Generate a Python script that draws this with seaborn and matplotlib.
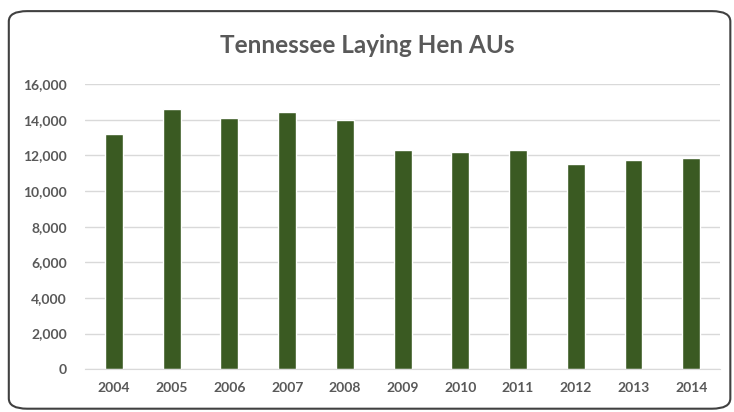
import matplotlib
matplotlib.use("Agg")
import matplotlib.pyplot as plt
from matplotlib.patches import FancyBboxPatch
from matplotlib.ticker import FuncFormatter
import seaborn as sns
import pandas as pd

years = ["2004", "2005", "2006", "2007", "2008", "2009", "2010", "2011", "2012", "2013", "2014"]
hen_aus = [13200, 14580, 14110, 14440, 14000, 12300, 12180, 12300, 11490, 11740, 11850]

df = pd.DataFrame({"year": years, "aus": hen_aus})

sns.set_style("white")
plt.rcParams["font.family"] = ["Lato", "DejaVu Sans"]

fig = plt.figure(figsize=(7.34, 4.12), dpi=100)
ax = fig.add_axes([0.116, 0.104, 0.865, 0.692])

sns.barplot(data=df, x="year", y="aus", color="#3a5a22", saturation=1,
            width=0.31, ax=ax)

ax.set_ylim(0, 16000)
ax.set_yticks(range(0, 16001, 2000))
ax.yaxis.set_major_formatter(FuncFormatter(lambda v, p: f"{int(v):,}"))
ax.grid(axis="y", color="#d9d9d9", linewidth=1)
ax.set_axisbelow(True)
for s in ["top", "right", "left"]:
    ax.spines[s].set_visible(False)
ax.spines["bottom"].set_color("#d9d9d9")
ax.tick_params(axis="both", length=0, labelsize=10, labelcolor="#595959")
ax.tick_params(axis="x", pad=9)
ax.tick_params(axis="y", pad=13)
for lab in ax.get_xticklabels() + ax.get_yticklabels():
    lab.set_fontweight("bold")
ax.set_xlabel("")
ax.set_ylabel("")

fig.text(0.5, 0.89, "Tennessee Laying Hen AUs", ha="center", va="center",
         fontsize=17.5, fontweight="bold", color="#595959")

border = FancyBboxPatch((0.012, 0.008), 0.983, 0.965, boxstyle="round,pad=0,rounding_size=0.025",
                        transform=fig.transFigure, fill=False, edgecolor="#404040", linewidth=1.5)
fig.patches.append(border)

fig.savefig("out.png", dpi=100)
